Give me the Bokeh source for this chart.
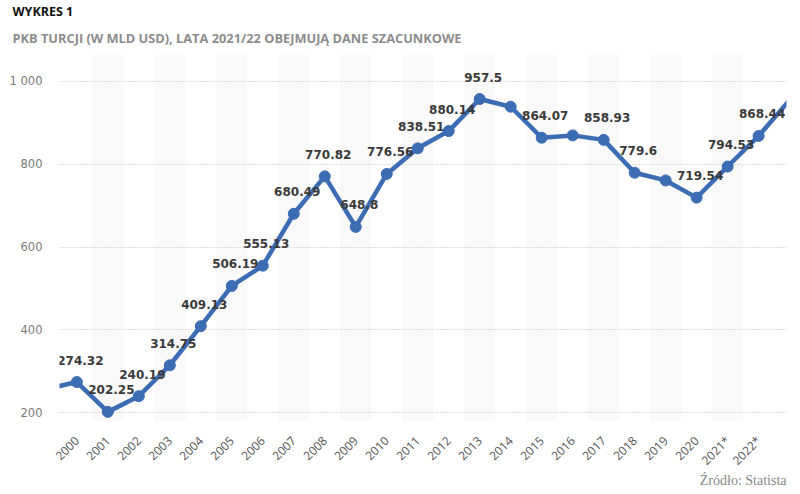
from bokeh.plotting import figure
from bokeh.models import FixedTicker, Range1d, Title, ColumnDataSource
from bokeh.core.properties import value
from bokeh.embed import file_html
from bokeh.resources import INLINE

# ---- data ----
years = ["2000", "2001", "2002", "2003", "2004", "2005", "2006", "2007", "2008",
         "2009", "2010", "2011", "2012", "2013", "2014", "2015", "2016", "2017",
         "2018", "2019", "2020", "2021*", "2022*"]
gdp = [274.32, 202.25, 240.19, 314.75, 409.13, 506.19, 555.13, 680.49, 770.82,
       648.8, 776.56, 838.51, 880.14, 957.5, 938.9, 864.07, 869.7, 858.93,
       779.6, 761.0, 719.54, 794.53, 868.44]
shown_labels = ["274.32", "202.25", "240.19", "314.75", "409.13", "506.19", "555.13",
                "680.49", "770.82", "648.8", "776.56", "838.51", "880.14", "957.5",
                "", "864.07", "", "858.93", "779.6", "", "719.54", "794.53", "868.44"]
# values just outside the visible window (line runs off both edges)
gdp_before = 257.0   # 1999
gdp_after = 955.0    # 2023
y_ticks = [200, 400, 600, 800, 1000]

BLUE = "#3c6cb4"

idx = list(range(len(years)))
line_x = [-1] + idx + [len(years)]
line_y = [gdp_before] + gdp + [gdp_after]

p = figure(width=792, height=486, output_backend="svg", toolbar_location=None,
           x_range=Range1d(-0.56, 22.9), y_range=Range1d(179, 1065),
           min_border_left=59, min_border_right=6, min_border_top=52,
           min_border_bottom=65)
p.outline_line_color = None
p.background_fill_color = "white"
p.border_fill_color = "white"

# alternating bands on odd positions
band_x = [i for i in idx if i % 2 == 1]
p.vbar(x=band_x, width=1.0, bottom=0, top=2000, fill_color="#f9f9f9",
       line_color=None, level="underlay")

p.line(line_x, line_y, line_color=BLUE, line_width=4.5, line_join="round")
p.scatter(idx, gdp, size=11, fill_color=BLUE, line_color=BLUE)

src = ColumnDataSource(dict(x=idx, y=gdp, t=shown_labels))
p.text(x="x", y="y", text="t", source=src, text_align="center",
       text_baseline="middle", y_offset=-22, x_offset=3.5,
       text_font=value("DejaVu Sans"), text_font_style="bold",
       text_font_size="12px", text_color="#3a3a3a")

# axes
p.xaxis.ticker = FixedTicker(ticks=idx)
p.xaxis.major_label_overrides = {i: y for i, y in zip(idx, years)}
p.xaxis.major_label_orientation = 0.785398
p.xaxis.axis_line_color = None
p.xaxis.major_tick_line_color = None
p.xaxis.minor_tick_line_color = None
p.xaxis.major_tick_out = 0
p.xaxis.major_label_standoff = 17
p.xaxis.major_label_text_font = "Open Sans"
p.xaxis.major_label_text_font_size = "12px"
p.xaxis.major_label_text_color = "#555555"

p.yaxis.ticker = FixedTicker(ticks=y_ticks)
p.yaxis.major_label_overrides = {1000: "1 000"}
p.yaxis.axis_line_color = None
p.yaxis.major_tick_line_color = None
p.yaxis.minor_tick_line_color = None
p.yaxis.major_tick_out = 0
p.yaxis.major_label_standoff = 17
p.yaxis.major_label_text_font = "DejaVu Sans"
p.yaxis.major_label_text_font_size = "11.5px"
p.yaxis.major_label_text_color = "#7a7a7a"

p.xgrid.grid_line_color = None
p.ygrid.grid_line_color = "#bbbbbb"
p.ygrid.grid_line_dash = "1 2"
p.ygrid.grid_line_width = 1

# titles
p.add_layout(Title(text="PKB TURCJI (W MLD USD), LATA 2021/22 OBEJMUJĄ DANE SZACUNKOWE",
                   text_font="Open Sans", text_font_style="bold",
                   text_font_size="12.8px", text_color="#8c8c8c", align="left",
                   offset=-47, standoff=15), "above")
p.add_layout(Title(text="WYKRES 1", text_font="Open Sans", text_font_style="bold",
                   text_font_size="12.5px", text_color="#111111", align="left",
                   offset=-47, standoff=0), "above")
p.add_layout(Title(text="Źródło: Statista", text_font="Liberation Serif",
                   text_font_style="normal", text_font_size="14px",
                   text_color="#888888", align="right", standoff=-14), "below")

open("out.html", "w").write(file_html(p, INLINE))
